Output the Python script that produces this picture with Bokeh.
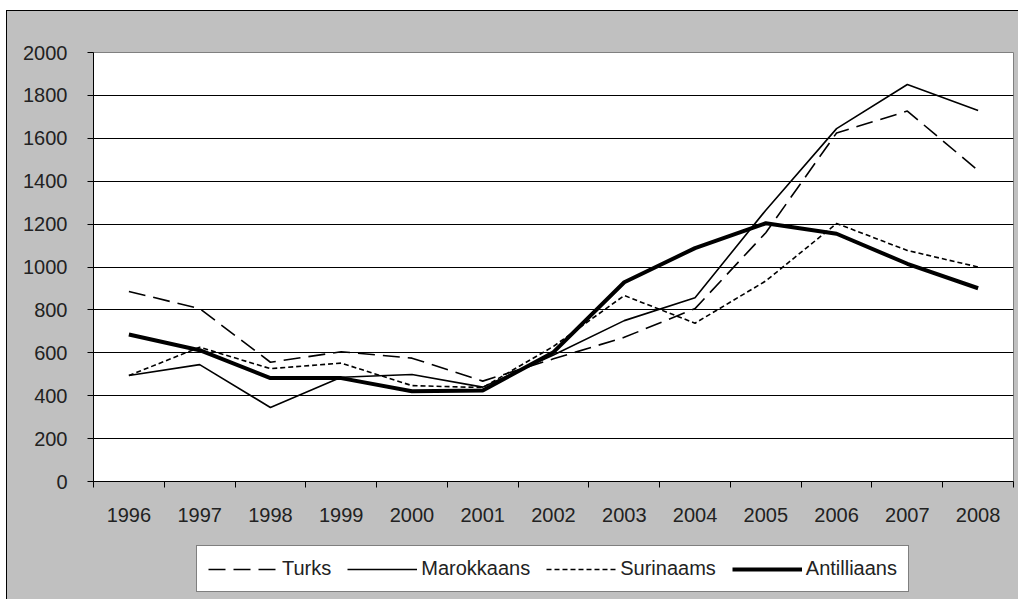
from bokeh.plotting import figure
from bokeh.layouts import column
from bokeh.models import FixedTicker, Legend, LegendItem, Range1d
from bokeh.embed import file_html
from bokeh.resources import INLINE

years = [1996, 1997, 1998, 1999, 2000, 2001, 2002, 2003, 2004, 2005, 2006, 2007, 2008]
turks = [886, 806, 556, 605, 575, 468, 572, 672, 806, 1160, 1625, 1727, 1450]
marokkaans = [494, 545, 345, 486, 499, 440, 590, 750, 857, 1265, 1645, 1851, 1730]
surinaams = [494, 626, 526, 552, 447, 438, 630, 867, 738, 935, 1203, 1077, 1000]
antilliaans = [685, 612, 482, 482, 421, 424, 603, 929, 1088, 1204, 1155, 1015, 901]
series_names = ["Turks", "Marokkaans", "Surinaams", "Antilliaans"]
y_ticks = [0, 200, 400, 600, 800, 1000, 1200, 1400, 1600, 1800, 2000]

FONT = "Liberation Sans"
GRAY = "#c0c0c0"
styles = [dict(line_width=1.6, line_dash="17 8"),
          dict(line_width=1.6),
          dict(line_width=1.6, line_dash="5 3"),
          dict(line_width=4)]
all_series = [turks, marokkaans, surinaams, antilliaans]

p = figure(width=1011, height=519, output_backend="svg", toolbar_location=None,
           x_range=Range1d(years[0] - 0.5, years[-1] + 0.5), y_range=Range1d(0, 2000),
           min_border_left=86, min_border_right=5, min_border_top=41, min_border_bottom=49)
p.styles = {"background-color": GRAY}
p.border_fill_color = GRAY
p.background_fill_color = "white"
p.outline_line_color = "#808080"
p.outline_line_width = 1

bounds = [y - 0.5 for y in years] + [years[-1] + 0.5]
p.xaxis.ticker = FixedTicker(ticks=years, minor_ticks=bounds)
p.xaxis.major_tick_out = 0
p.xaxis.major_tick_in = 0
p.xaxis.minor_tick_out = 6
p.xaxis.minor_tick_in = 0
p.xaxis.minor_tick_line_color = "black"
p.xaxis.major_label_standoff = 20

p.yaxis.ticker = FixedTicker(ticks=y_ticks)
p.yaxis.major_tick_out = 6
p.yaxis.major_tick_in = 0
p.yaxis.minor_tick_line_color = None
p.yaxis.major_label_standoff = 20

for ax in (p.xaxis, p.yaxis):
    ax.axis_line_color = "black"
    ax.axis_line_width = 1
    ax.major_tick_line_color = "black"
    ax.major_label_text_font = FONT
    ax.major_label_text_font_size = "20px"
    ax.major_label_text_color = "#222222"

p.xgrid.grid_line_color = None
p.ygrid.ticker = FixedTicker(ticks=y_ticks)
p.ygrid.grid_line_color = "black"
p.ygrid.grid_line_width = 1

for vals, st in zip(all_series, styles):
    p.line(years, vals, line_color="black", **st)

# legend strip below the chart (its series lie outside its view; only the legend shows)
p2 = figure(width=1011, height=69, output_backend="svg", toolbar_location=None,
            x_range=Range1d(0, 1), y_range=Range1d(0, 1),
            min_border_left=86, min_border_right=5, min_border_top=0, min_border_bottom=0)
p2.styles = {"background-color": GRAY}
p2.border_fill_alpha = 0
p2.background_fill_alpha = 0
p2.outline_line_color = None
p2.axis.visible = False
p2.grid.grid_line_color = None

items = []
for name, vals, st in zip(series_names, all_series, styles):
    r = p2.line(years, vals, line_color="black", **st)
    items.append(LegendItem(label=name, renderers=[r]))

legend = Legend(items=items, orientation="horizontal", location=(103, 7))
legend.label_text_font = FONT
legend.label_text_font_size = "20px"
legend.label_text_color = "#222222"
legend.glyph_width = 70
legend.glyph_height = 20
legend.label_standoff = 4
legend.spacing = 16
legend.padding = 11
legend.margin = 0
legend.border_line_color = "black"
legend.border_line_width = 1
legend.background_fill_color = "white"
legend.background_fill_alpha = 1
p2.add_layout(legend)

layout = column(p, p2, spacing=0)
layout.styles = {"margin-top": "10px", "margin-left": "6px",
                 "border-top": "1px solid black", "border-left": "1px solid black",
                 "background-color": GRAY}
open("out.html", "w").write(file_html(layout, INLINE))
